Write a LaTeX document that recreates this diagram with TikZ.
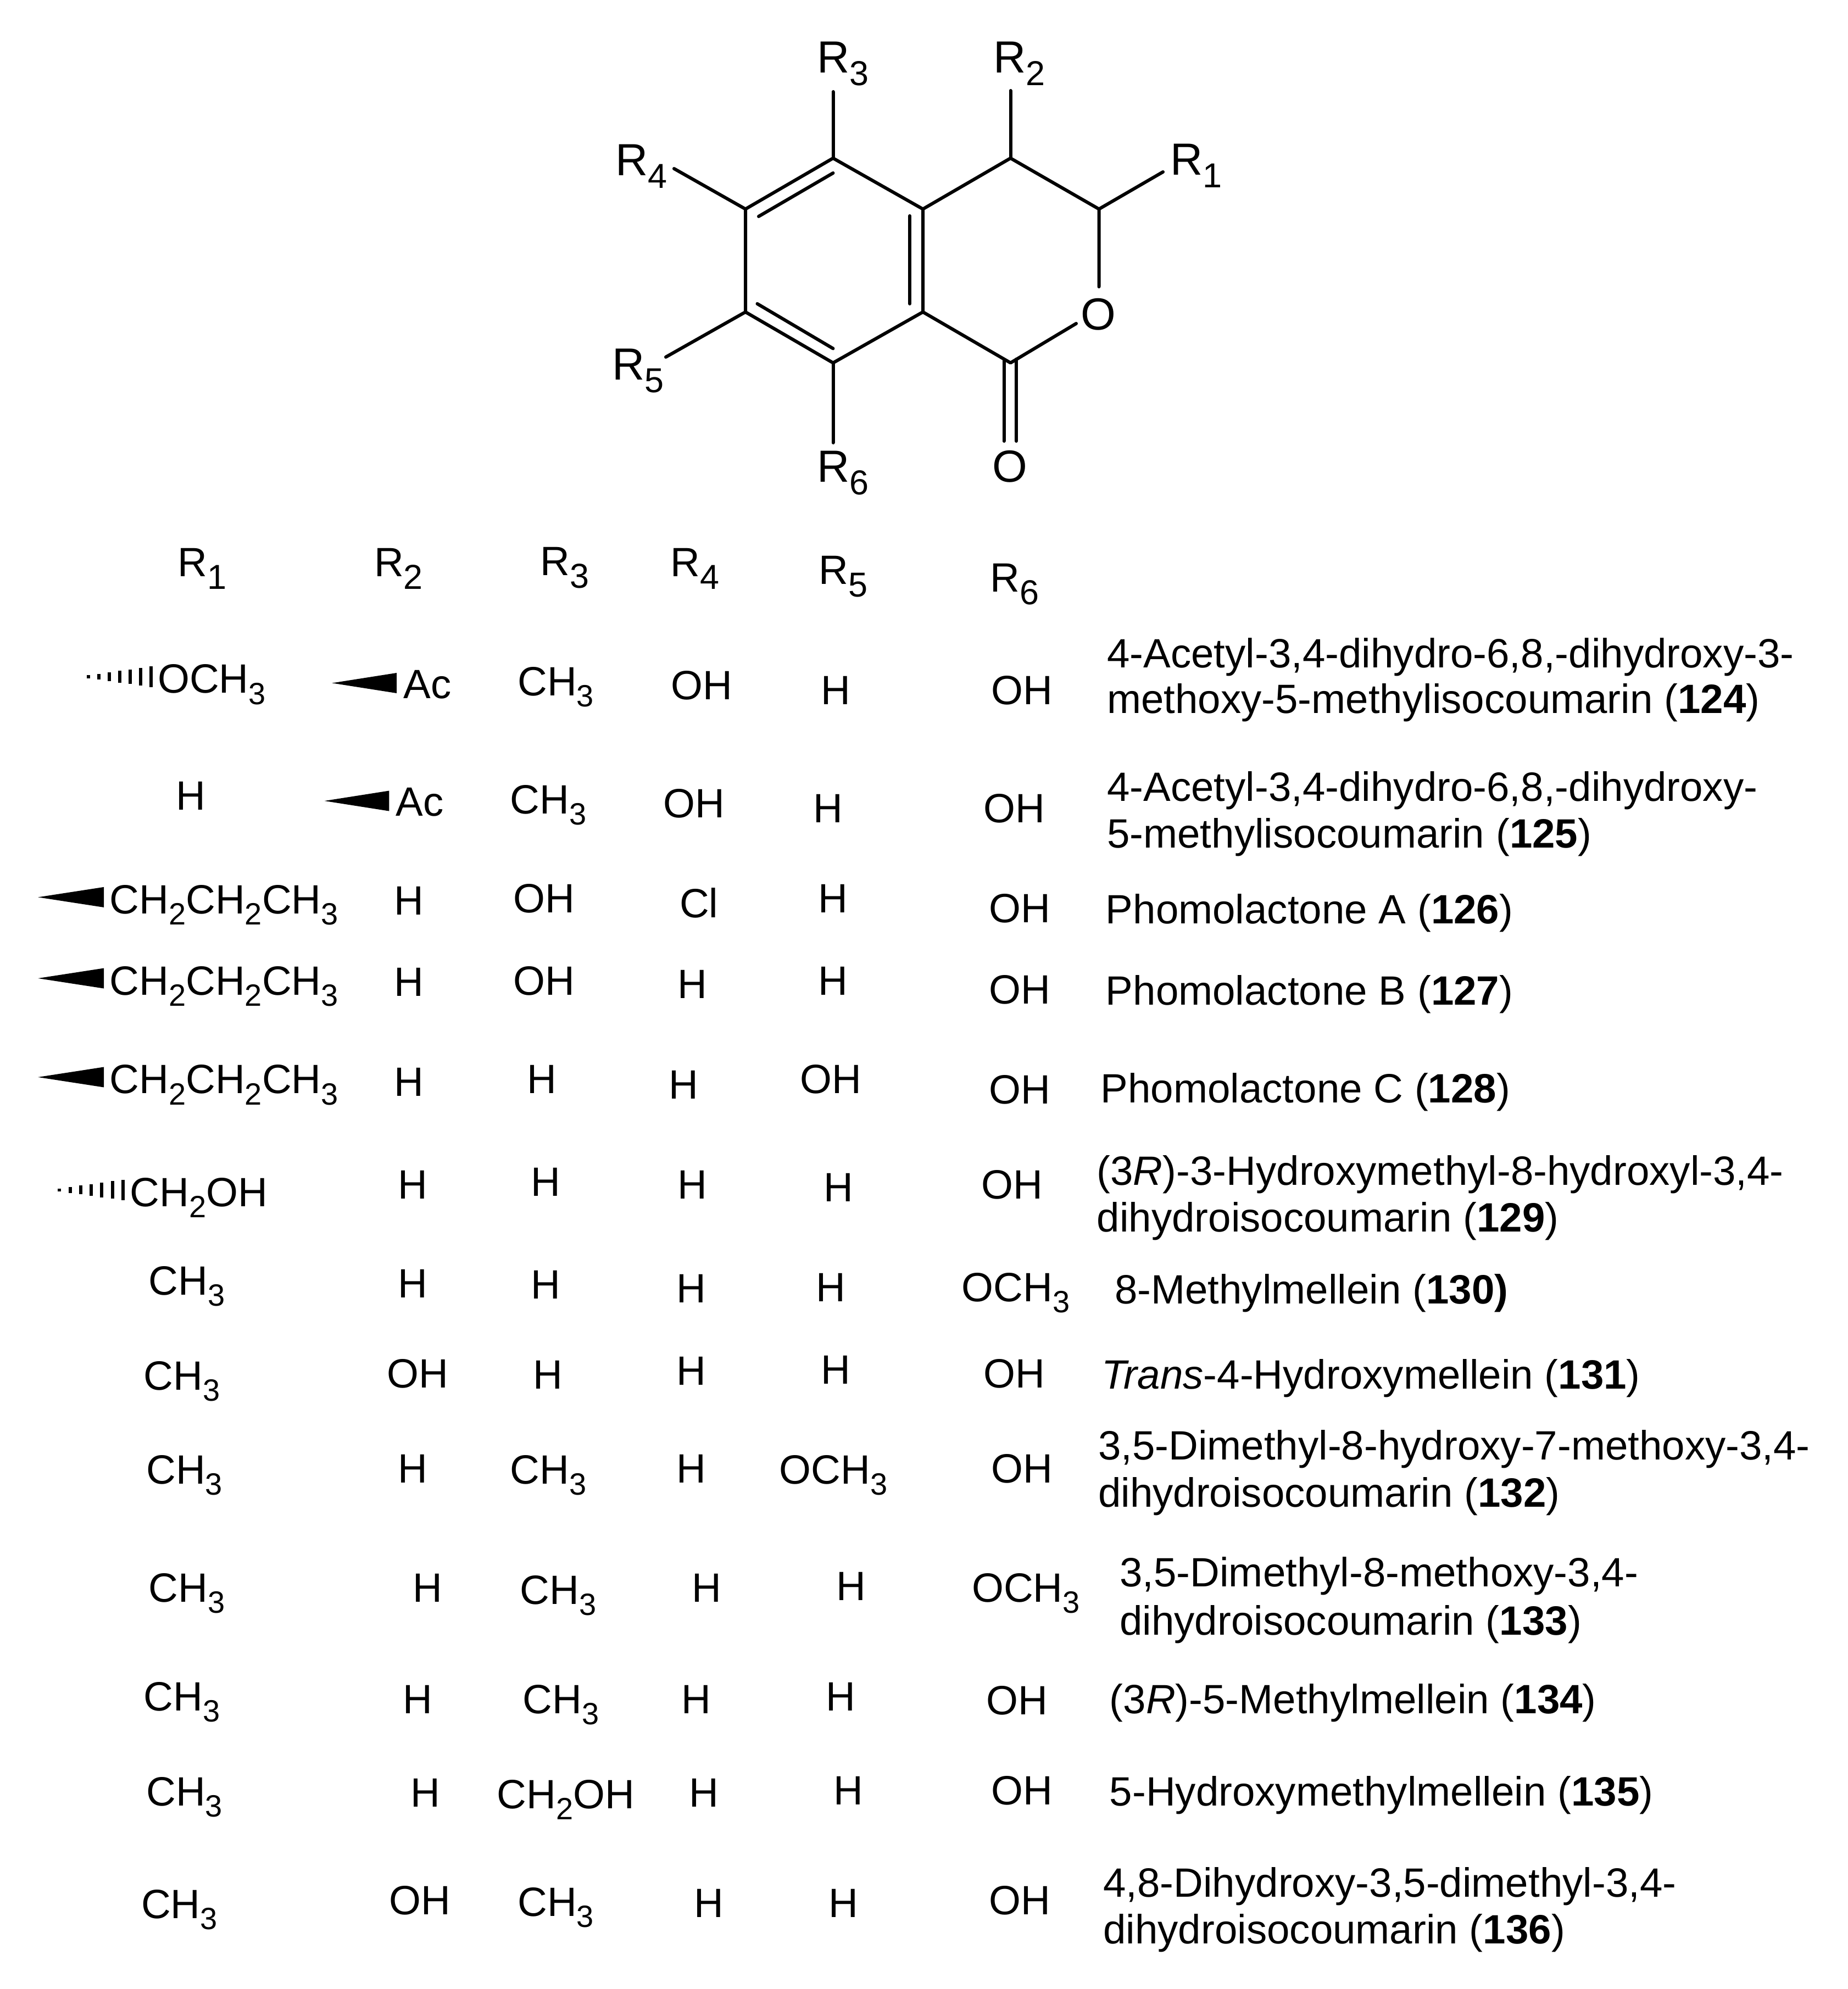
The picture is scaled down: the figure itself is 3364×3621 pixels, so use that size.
\documentclass[tikz,border=0pt]{standalone}
\usepackage{fontspec}
\setmainfont{Liberation Sans}
\newcounter{cl}
\newcommand{\Sb}[1]{\raisebox{-0.27em}{\fontsize{56}{56}\selectfont #1}}
\newcommand{\Rb}[1]{R\raisebox{-23pt}{\fontsize{63}{63}\selectfont #1}}
\newcommand{\cmid}[3]{\stepcounter{cl}\node[cell,anchor=base] (c\thecl) at (#1+1.5,#2+12) {#3};}
\newcommand{\lft}[3]{\stepcounter{cl}\node[cell,anchor=base west] (c\thecl) at (#1+2.5,#2+12) {#3};}
\newcommand{\wdg}[3]{\stepcounter{cl}\coordinate (w\thecl) at (#1,#3);\coordinate (e\thecl) at (#2,#3);
  \fill (w\thecl) -- ([yshift=18.5pt]e\thecl) -- ([yshift=-18.5pt]e\thecl) -- cycle;}
\newcommand{\hsh}[3]{\foreach \k in {0,...,6}{\draw[line width=6pt] ({#1+(#2-#1)*\k/6},{#3-(1.2+\k*1.15)}) -- ({#1+(#2-#1)*\k/6},{#3+(1.2+\k*1.15)});}}
\tikzset{
  cell/.style={inner sep=0pt,outer sep=0pt,font=\fontsize{74.5}{74.5}\selectfont},
  ringlabel/.style={inner sep=0pt,outer sep=0pt,anchor=base west,font=\fontsize{82}{82}\selectfont},
  oxy/.style={inner sep=0pt,outer sep=0pt,anchor=base,font=\fontsize{82}{82}\selectfont},
  bond/.style={line width=6pt,line cap=round,line join=round}
}
\begin{document}
\begin{tikzpicture}[x=2.307pt,y=-2.307pt]
\begin{scope}[x=1pt,y=-1pt]
\useasboundingbox (0,0) rectangle (3364,3621);
\coordinate (a1) at (1516.5,288);
\coordinate (a2) at (1357,380.6);
\coordinate (a3) at (1357,568);
\coordinate (a4) at (1516.5,660.6);
\coordinate (a5) at (1680,568);
\coordinate (a6) at (1680,380.6);
\coordinate (a7) at (1839.5,288);
\coordinate (a8) at (2000.5,380.6);
\coordinate (a9) at (1839.5,660.6);
\node[oxy] (O1) at (1999,600) {O};
\node[oxy] (O2) at (1838,877) {O};
\node[ringlabel] (R1) at (2130,318) {\Rb{1}};
\node[ringlabel] (R2) at (1808,133) {\Rb{2}};
\node[ringlabel] (R3) at (1487,133) {\Rb{3}};
\node[ringlabel] (R4) at (1120,319) {\Rb{4}};
\node[ringlabel] (R5) at (1114,691) {\Rb{5}};
\node[ringlabel] (R6) at (1487,877) {\Rb{6}};
\coordinate (e1) at (2117,313);
\coordinate (e2) at (1839.5,165);
\coordinate (e3) at (1516.5,167);
\coordinate (e4) at (1227,307);
\coordinate (e5) at (1212,650);
\coordinate (e6) at (1516.5,806);
\coordinate (e7) at (2000.5,522);
\coordinate (e8) at (1959,589);
\draw[bond] (a1)--(a2)--(a3)--(a4)--(a5)--(a6)--(a1);
\draw[bond] (a6)--(a7)--(a8)--(e7);
\draw[bond] (a5)--(a9)--(e8);
\draw[bond] (a8)--(e1);
\draw[bond] (a7)--(e2);
\draw[bond] (a1)--(e3);
\draw[bond] (a2)--(e4);
\draw[bond] (a3)--(e5);
\draw[bond] (a4)--(e6);
\coordinate (d1) at (1381,394); \coordinate (d2) at (1516.5,315);
\coordinate (d3) at (1656,393); \coordinate (d4) at (1656,553);
\coordinate (d5) at (1378.5,553); \coordinate (d6) at (1516.5,634.5);
\coordinate (d7) at (1827.5,654); \coordinate (d8) at (1827.5,803);
\coordinate (d9) at (1850,654); \coordinate (d10) at (1850,803);
\draw[bond] (d1)--(d2);
\draw[bond] (d3)--(d4);
\draw[bond] (d5)--(d6);
\draw[bond] (d7)--(d8);
\draw[bond] (d9)--(d10);
\end{scope}
% header
\cmid{158}{443}{\Rb{1}}
\cmid{313}{443}{\Rb{2}}
\cmid{444}{442}{\Rb{3}}
\cmid{547}{443}{\Rb{4}}
\cmid{664}{449}{\Rb{5}}
\cmid{799}{455}{\Rb{6}}
% 124
\hsh{70}{119}{534}
\lft{122}{535}{OCH\Sb{3}}
\wdg{262}{313}{539}
\lft{316}{539}{Ac}
\cmid{437}{537}{CH\Sb{3}}
\cmid{552}{540}{OH}
\cmid{658}{544}{H}
\cmid{805}{544}{OH}
\lft{871}{515}{4-Acetyl-3,4-dihydro-6,8,-dihydroxy-3-}
\lft{871}{551}{methoxy-5-methylisocoumarin (\textbf{124})}
% 125
\cmid{149}{627}{H}
\wdg{256}{307}{632}
\lft{310}{632}{Ac}
\cmid{431}{630}{CH\Sb{3}}
\cmid{546}{633}{OH}
\cmid{652}{637}{H}
\cmid{799}{637}{OH}
\lft{871}{620}{4-Acetyl-3,4-dihydro-6,8,-dihydroxy-}
\lft{871}{657}{5-methylisocoumarin (\textbf{125})}
% 126
\wdg{30}{82}{708}
\lft{84}{709}{CH\Sb{2}CH\Sb{2}CH\Sb{3}}
\cmid{321}{710}{H}
\cmid{428}{708}{OH}
\cmid{550}{712}{Cl}
\cmid{656}{708}{H}
\cmid{803}{716}{OH}
\lft{870}{717}{Phomolactone A (\textbf{126})}
% 127
\wdg{30}{82}{772}
\lft{84}{773}{CH\Sb{2}CH\Sb{2}CH\Sb{3}}
\cmid{321}{774}{H}
\cmid{428}{773}{OH}
\cmid{545}{776}{H}
\cmid{656}{773}{H}
\cmid{803}{780}{OH}
\lft{870}{781}{Phomolactone B (\textbf{127})}
% 128
\wdg{30}{82}{850}
\lft{84}{851}{CH\Sb{2}CH\Sb{2}CH\Sb{3}}
\cmid{321}{853}{H}
\cmid{426}{851}{H}
\cmid{538}{855}{H}
\cmid{654}{851}{OH}
\cmid{803}{859}{OH}
\lft{866}{858}{Phomolactone C (\textbf{128})}
% 129
\hsh{47}{97}{939}
\lft{100}{940}{CH\Sb{2}OH}
\cmid{324}{934}{H}
\cmid{429}{932}{H}
\cmid{545}{934}{H}
\cmid{660}{936}{H}
\cmid{797}{934}{OH}
\lft{863}{923}{(3\textit{R})-3-Hydroxymethyl-8-hydroxyl-3,4-}
\lft{863}{960}{dihydroisocoumarin (\textbf{129})}
% 130
\cmid{146}{1010}{CH\Sb{3}}
\cmid{324}{1012}{H}
\cmid{429}{1013}{H}
\cmid{544}{1016}{H}
\cmid{654}{1015}{H}
\cmid{800}{1015}{OCH\Sb{3}}
\lft{877}{1017}{8-Methylmellein (\textbf{130)}}
% 131
\cmid{142}{1085}{CH\Sb{3}}
\cmid{328}{1083}{OH}
\cmid{431}{1084}{H}
\cmid{544}{1081}{H}
\cmid{658}{1080}{H}
\cmid{799}{1083}{OH}
\lft{867}{1084}{\textit{Trans}-4-Hydroxymellein (\textbf{131})}
% 132
\cmid{144}{1159}{CH\Sb{3}}
\cmid{324}{1158}{H}
\cmid{431}{1159}{CH\Sb{3}}
\cmid{544}{1158}{H}
\cmid{656}{1159}{OCH\Sb{3}}
\cmid{805}{1158}{OH}
\lft{864}{1140}{3,5-Dimethyl-8-hydroxy-7-methoxy-3,4-}
\lft{864}{1177}{dihydroisocoumarin (\textbf{132})}
% 133
\cmid{146}{1252}{CH\Sb{3}}
\cmid{336}{1252}{H}
\cmid{439}{1254}{CH\Sb{3}}
\cmid{556}{1252}{H}
\cmid{670}{1251}{H}
\cmid{808}{1252}{OCH\Sb{3}}
\lft{881}{1240}{3,5-Dimethyl-8-methoxy-3,4-}
\lft{881}{1278}{dihydroisocoumarin (\textbf{133})}
% 134
\cmid{142}{1338}{CH\Sb{3}}
\cmid{328}{1340}{H}
\cmid{441}{1340}{CH\Sb{3}}
\cmid{548}{1340}{H}
\cmid{662}{1338}{H}
\cmid{801}{1341}{OH}
\lft{873}{1340}{(3\textit{R})-5-Methylmellein (\textbf{134})}
% 135
\cmid{144}{1413}{CH\Sb{3}}
\cmid{334}{1414}{H}
\cmid{445}{1415}{CH\Sb{2}OH}
\cmid{554}{1414}{H}
\cmid{668}{1412}{H}
\cmid{805}{1412}{OH}
\lft{873}{1413}{5-Hydroxymethylmellein (\textbf{135})}
% 136
\cmid{140}{1502}{CH\Sb{3}}
\cmid{330}{1499}{OH}
\cmid{437}{1500}{CH\Sb{3}}
\cmid{558}{1501}{H}
\cmid{664}{1501}{H}
\cmid{803}{1499}{OH}
\lft{868}{1485}{4,8-Dihydroxy-3,5-dimethyl-3,4-}
\lft{868}{1522}{dihydroisocoumarin (\textbf{136})}
\end{tikzpicture}
\end{document}
